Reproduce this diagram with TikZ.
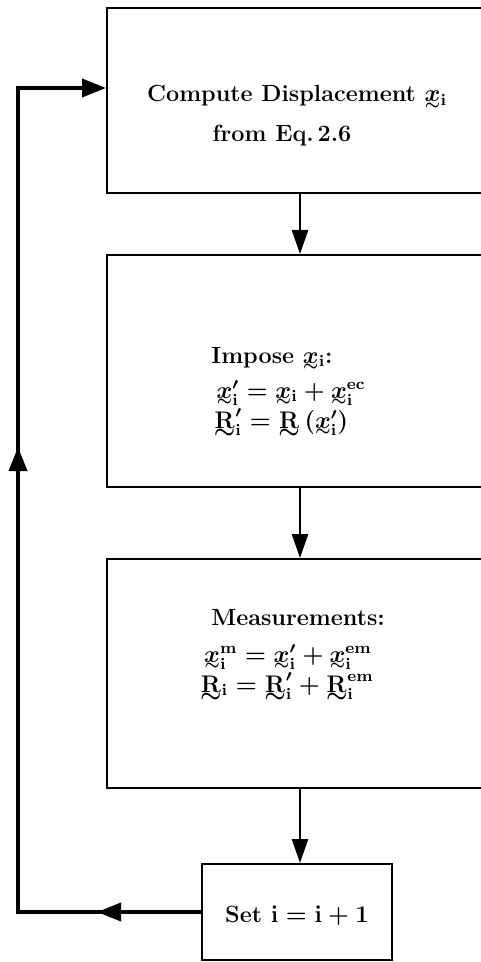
\documentclass[tikz,border=0pt]{standalone}
\usepackage{amsmath,amssymb,bm}
\usetikzlibrary{arrows.meta,decorations.markings}
\newcommand{\tlx}[2]{{\smash[b]{\vtop{\offinterlineskip\halign{\hfil##\hfil\cr$#1$\cr\noalign{\kern0.4pt}$#2\sim$\cr}}}}}
\newcommand{\tx}{\tlx{\bm{x}}{\scriptstyle}}
\newcommand{\tR}{\tlx{\mathbf{R}}{\textstyle}}
\newcommand{\bi}{\mathbf{i}}
\begin{document}
\begin{tikzpicture}[x=0.5pt,y=-0.5pt,
  box/.style={draw,line width=1pt,inner sep=0pt},
  txt/.style={anchor=base,inner sep=0pt,font=\fontsize{11.7}{14}\selectfont\bfseries\boldmath},
  arr/.style={line width=1.3pt,-{Triangle[length=12pt,width=8pt]}},
  loopline/.style={line width=1.8pt,-{Triangle[length=12pt,width=9pt]}}]
\useasboundingbox (0,0) rectangle (481,962);
\node[box,minimum width=193pt,minimum height=92.5pt] (b1) at (300,100.5) {};
\node[box,minimum width=193pt,minimum height=116pt] (b2) at (300,371) {};
\node[box,minimum width=193pt,minimum height=114.5pt] (b3) at (300,673.5) {};
\node[box,minimum width=95pt,minimum height=48pt] (s) at (297,912) {};
% texts
\node[txt] (t1a) at (297,102) {Compute Displacement $\tx_{\bi}$};
\node[txt] (t1b) at (282,142) {from Eq.\,2.6};
\node[txt] (t2a) at (272,363) {Impose $\tx_{\bi}$:};
\node[txt] (t2b) at (291,398) {$\tx'_{\bi}=\tx_{\bi}+\tx_{\bi}^{\mathbf{ec}}$};
\node[txt] (t2c) at (281,428) {$\tR'_{\bi}=\tR\,(\tx'_{\bi})$};
\node[txt] (t3a) at (298,625) {Measurements:};
\node[txt] (t3b) at (288,662) {$\tx_{\bi}^{\mathbf{m}}=\tx'_{\bi}+\tx_{\bi}^{\mathbf{em}}$};
\node[txt] (t3c) at (287,692) {$\tR_{\bi}=\tR'_{\bi}+\tR_{\bi}^{\mathbf{em}}$};
\node[txt] (t4) at (297,922) {Set $\bi=\bi+1$};
% arrows
\draw[arr] (b1.south) -- (b2.north);
\draw[arr] (b2.south) -- (b3.north);
\draw[arr] (b3.south) -- (b3.south |- s.north);
\coordinate (cBL) at (18,912);
\coordinate (cTL) at (18,88);
\draw[loopline,line join=miter,
  postaction={decorate,decoration={markings,
    mark=at position 52pt with {\arrow{Triangle[length=12pt,width=9pt]}},
    mark=at position 324pt with {\arrow{Triangle[length=12pt,width=9pt]}}}}]
  (s.west) -- (cBL) -- (cTL) -- (cTL -| b1.west);
\end{tikzpicture}
\end{document}
